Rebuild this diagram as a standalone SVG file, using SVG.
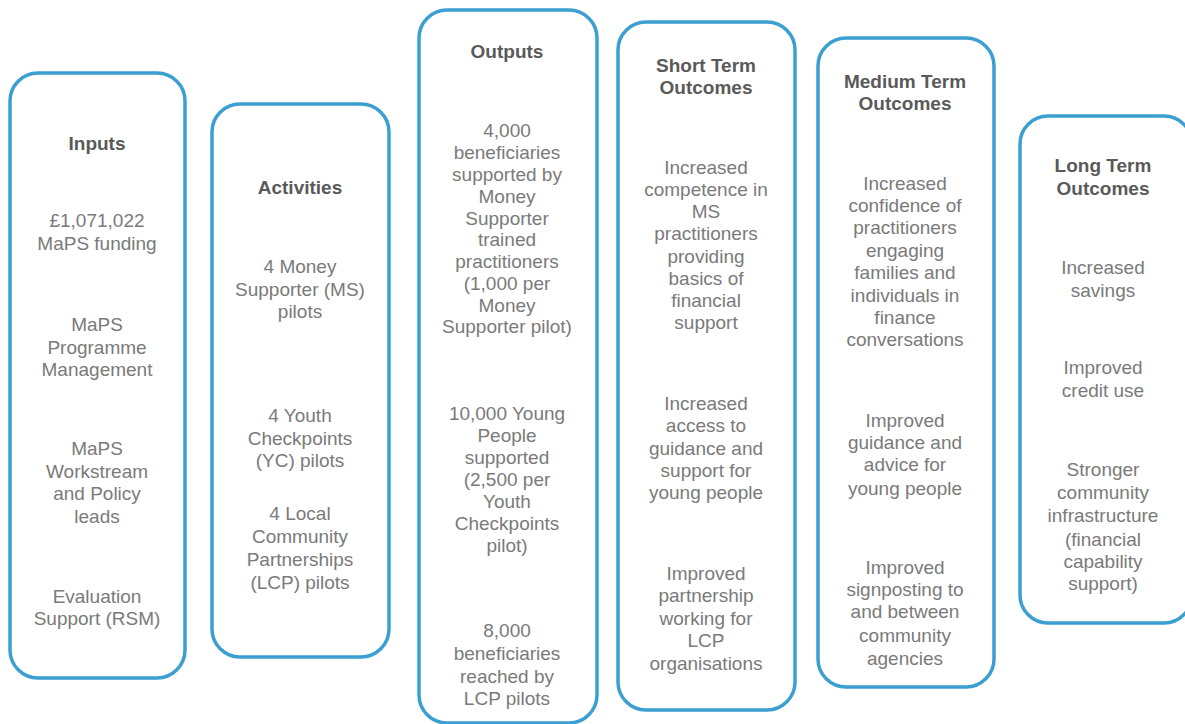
<svg xmlns="http://www.w3.org/2000/svg" width="1185" height="724" viewBox="0 0 1185 724">
<style>
.box{fill:#ffffff;stroke:#3b9fd1;stroke-width:3.5}
text{font-family:"Liberation Sans",Arial,sans-serif;font-size:19px;text-anchor:middle;fill:#7a7a7a}
.t{font-weight:bold;fill:#5a5a5a}
</style>
<rect width="1185" height="724" fill="#ffffff"/>
<g id="inputs">
<rect class="box" x="10" y="73" width="175" height="605" rx="28"/>
<text class="t" x="97" y="150">Inputs</text>
<text x="97" y="227">£1,071,022</text>
<text x="97" y="250">MaPS funding</text>
<text x="97" y="331">MaPS</text>
<text x="97" y="354">Programme</text>
<text x="97" y="376">Management</text>
<text x="97" y="455">MaPS</text>
<text x="97" y="478">Workstream</text>
<text x="97" y="500">and Policy</text>
<text x="97" y="523">leads</text>
<text x="97" y="603">Evaluation</text>
<text x="97" y="625">Support (RSM)</text>
</g>
<g id="activities">
<rect class="box" x="212" y="104" width="177" height="553" rx="28"/>
<text class="t" x="300" y="194">Activities</text>
<text x="300" y="273">4 Money</text>
<text x="300" y="296">Supporter (MS)</text>
<text x="300" y="318">pilots</text>
<text x="300" y="422">4 Youth</text>
<text x="300" y="445">Checkpoints</text>
<text x="300" y="467">(YC) pilots</text>
<text x="300" y="520">4 Local</text>
<text x="300" y="543">Community</text>
<text x="300" y="566">Partnerships</text>
<text x="300" y="589">(LCP) pilots</text>
</g>
<g id="outputs">
<rect class="box" x="419" y="10" width="178" height="713" rx="28"/>
<text class="t" x="507" y="58">Outputs</text>
<text x="507" y="137">4,000</text>
<text x="507" y="159">beneficiaries</text>
<text x="507" y="181">supported by</text>
<text x="507" y="203">Money</text>
<text x="507" y="225">Supporter</text>
<text x="507" y="246">trained</text>
<text x="507" y="268">practitioners</text>
<text x="507" y="290">(1,000 per</text>
<text x="507" y="312">Money</text>
<text x="507" y="333">Supporter pilot)</text>
<text x="507" y="420">10,000 Young</text>
<text x="507" y="442">People</text>
<text x="507" y="464">supported</text>
<text x="507" y="486">(2,500 per</text>
<text x="507" y="508">Youth</text>
<text x="507" y="530">Checkpoints</text>
<text x="507" y="552">pilot)</text>
<text x="507" y="637">8,000</text>
<text x="507" y="660">beneficiaries</text>
<text x="507" y="683">reached by</text>
<text x="507" y="705">LCP pilots</text>
</g>
<g id="short-term">
<rect class="box" x="618" y="22" width="177" height="688" rx="28"/>
<text class="t" x="706" y="72">Short Term</text>
<text class="t" x="706" y="94">Outcomes</text>
<text x="706" y="174">Increased</text>
<text x="706" y="196">competence in</text>
<text x="706" y="218">MS</text>
<text x="706" y="240">practitioners</text>
<text x="706" y="263">providing</text>
<text x="706" y="285">basics of</text>
<text x="706" y="307">financial</text>
<text x="706" y="329">support</text>
<text x="706" y="410">Increased</text>
<text x="706" y="432">access to</text>
<text x="706" y="455">guidance and</text>
<text x="706" y="477">support for</text>
<text x="706" y="499">young people</text>
<text x="706" y="580">Improved</text>
<text x="706" y="602">partnership</text>
<text x="706" y="625">working for</text>
<text x="706" y="647">LCP</text>
<text x="706" y="670">organisations</text>
</g>
<g id="medium-term">
<rect class="box" x="818" y="38" width="176" height="649" rx="28"/>
<text class="t" x="905" y="88">Medium Term</text>
<text class="t" x="905" y="110">Outcomes</text>
<text x="905" y="190">Increased</text>
<text x="905" y="212">confidence of</text>
<text x="905" y="234">practitioners</text>
<text x="905" y="257">engaging</text>
<text x="905" y="279">families and</text>
<text x="905" y="302">individuals in</text>
<text x="905" y="324">finance</text>
<text x="905" y="346">conversations</text>
<text x="905" y="427">Improved</text>
<text x="905" y="449">guidance and</text>
<text x="905" y="471">advice for</text>
<text x="905" y="495">young people</text>
<text x="905" y="574">Improved</text>
<text x="905" y="596">signposting to</text>
<text x="905" y="618">and between</text>
<text x="905" y="642">community</text>
<text x="905" y="665">agencies</text>
</g>
<g id="long-term">
<rect class="box" x="1020" y="116" width="172" height="507" rx="28"/>
<text class="t" x="1103" y="172">Long Term</text>
<text class="t" x="1103" y="195">Outcomes</text>
<text x="1103" y="274">Increased</text>
<text x="1103" y="297">savings</text>
<text x="1103" y="374">Improved</text>
<text x="1103" y="397">credit use</text>
<text x="1103" y="476">Stronger</text>
<text x="1103" y="499">community</text>
<text x="1103" y="522">infrastructure</text>
<text x="1103" y="546">(financial</text>
<text x="1103" y="568">capability</text>
<text x="1103" y="590">support)</text>
</g>
<g id="connectors"></g>
</svg>
